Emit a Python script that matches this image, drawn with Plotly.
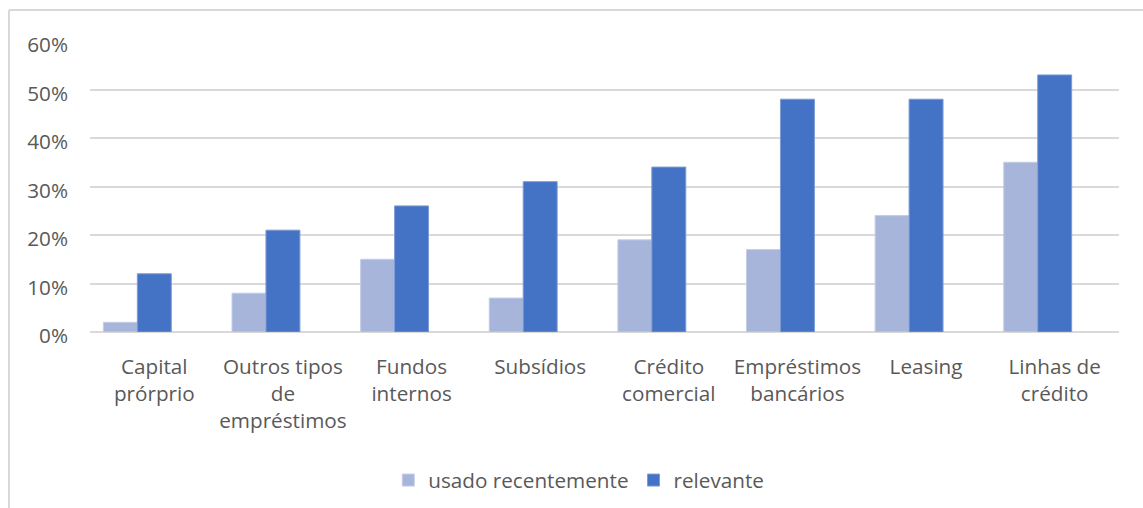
import plotly.graph_objects as go

categories = ["Capital<br>prórprio", "Outros tipos<br>de<br>empréstimos", "Fundos<br>internos",
              "Subsídios", "Crédito<br>comercial", "Empréstimos<br>bancários", "Leasing",
              "Linhas de<br>crédito"]
usado = [2, 8, 15, 7, 19, 17, 24, 35]
relevante = [12, 21, 26, 31, 34, 48, 48, 53]
y_ticks = [0, 10, 20, 30, 40, 50, 60]
y_tick_labels = [f"{v}%" for v in y_ticks]

FONT = "Open Sans"
TXT = "#595959"
GRID = "#D9D9D9"
W = 0.264
FS = 20.7

fig = go.Figure()
fig.add_trace(go.Bar(x=list(range(len(categories))), y=usado, name="usado recentemente",
                     marker=dict(color="#A7B5DA", line=dict(color="#C3CDE8", width=1)),
                     width=W, offset=-1.5 * W))
fig.add_trace(go.Bar(x=list(range(len(categories))), y=relevante, name="relevante",
                     marker=dict(color="#4472C4", line=dict(color="#7C9BD6", width=1)),
                     width=W, offset=-0.5 * W))

fig.update_layout(
    width=1143, height=508,
    margin=dict(l=90, r=24, t=41, b=176, autoexpand=False),
    paper_bgcolor="white", plot_bgcolor="white",
    barmode="overlay",
    font=dict(family=FONT, size=FS, color=TXT),
    showlegend=True,
    legend=dict(orientation="h", x=0.475, xanchor="center", y=-0.509, yanchor="middle",
                font=dict(size=FS, color=TXT), itemwidth=30, traceorder="normal"),
    xaxis=dict(tickmode="array", tickvals=list(range(len(categories))), ticktext=categories,
               range=[-0.5, len(categories) - 0.5], showgrid=False, showline=False,
               zeroline=False, ticks="", ticklabelstandoff=20, tickangle=0),
    yaxis=dict(range=[0, 60], tickmode="array", tickvals=y_ticks, ticktext=y_tick_labels,
               showgrid=True, gridcolor=GRID, gridwidth=1.5, zeroline=True,
               zerolinecolor=GRID, zerolinewidth=1.5, showline=False, ticks="",
               ticklabelstandoff=21, ticklabelshift=4),
    shapes=[
        dict(type="line", xref="paper", yref="paper", x0=(9 - 90) / 1029, x1=1.2,
             y0=(332 - 10) / 291, y1=(332 - 10) / 291, line=dict(color=GRID, width=2)),
        dict(type="line", xref="paper", yref="paper", x0=(9 - 90) / 1029, x1=(9 - 90) / 1029,
             y0=(332 - 10) / 291, y1=-1.0, line=dict(color=GRID, width=2)),
    ],
)

fig.write_html("out.html")
